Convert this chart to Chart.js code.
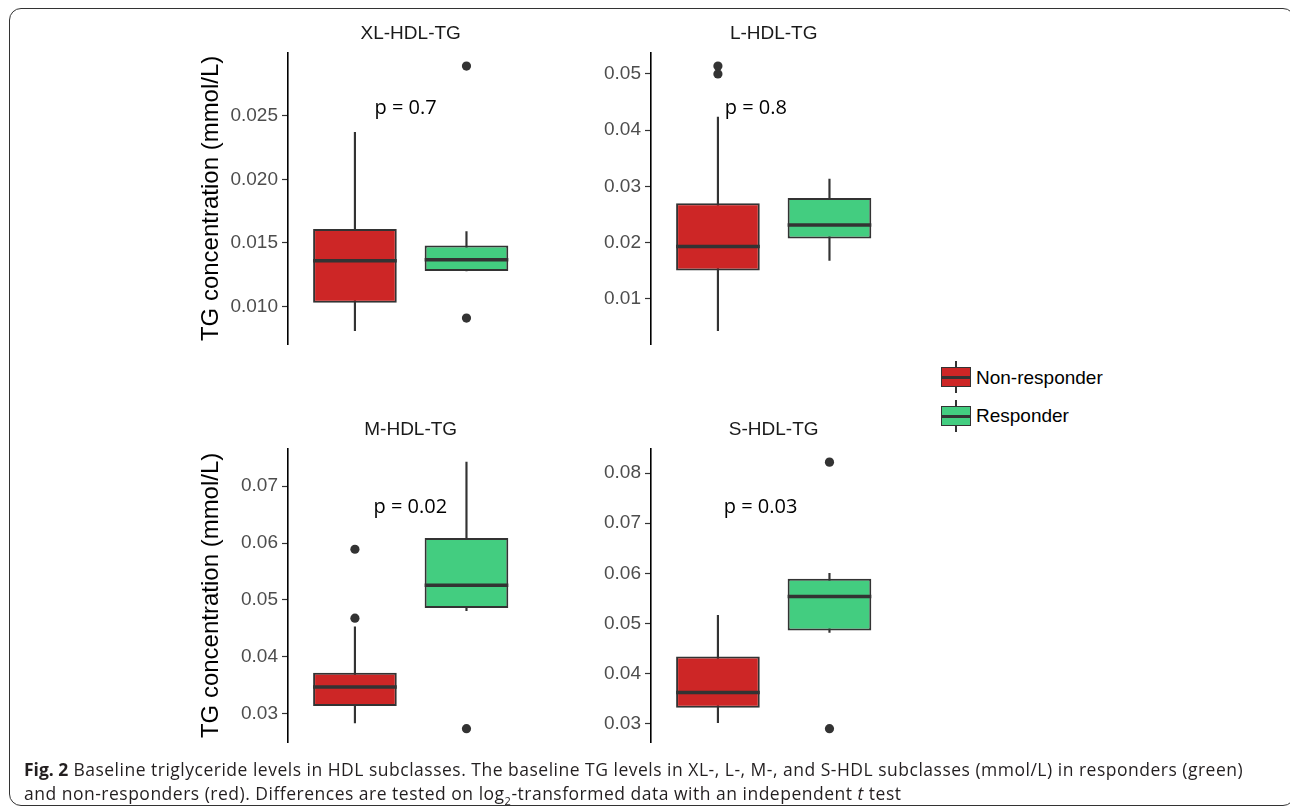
<!DOCTYPE html>
<html>
<head>
<meta charset="utf-8">
<script src="https://cdn.jsdelivr.net/npm/chart.js@4.4.1/dist/chart.umd.min.js"></script>
<style>
  html, body { margin: 0; padding: 0; background: #fff; }
  body { width: 1290px; height: 812px; position: relative; overflow: hidden; font-family: "Liberation Sans", Arial, sans-serif; }
  .frame { position: absolute; left: 9px; top: 8px; width: 1286px; height: 798px; box-sizing: border-box;
           border: 1.5px solid #333; border-radius: 12px; }
  .panel { position: absolute; }
  .wh { position: absolute; left: 955px; width: 1.5px; background: #333; }
  .key { position: absolute; left: 941px; width: 30px; height: 20px; box-sizing: border-box; border: 1.5px solid #333; }
  .key::before { content: ""; position: absolute; left: 0; right: 0; top: 50%; height: 3px; margin-top: -1.5px; background: #333; }
  .lbl { position: absolute; left: 976px; font-size: 19px; line-height: 22px; color: #000; }
  .caption { position: absolute; left: 24px; top: 757px; font-family: "Open Sans", sans-serif; font-size: 17.5px;
             letter-spacing: 0.5px; line-height: 24px; color: #231f20; white-space: nowrap; }
  .caption b { letter-spacing: 0; }
  .caption sub { font-size: 11px; line-height: 0; }
</style>
</head>
<body>
<div class="frame"></div>

<div class="panel" style="left:188px;top:22px;width:350px;height:338px"><canvas id="cXL"></canvas></div>
<div class="panel" style="left:581px;top:22px;width:320px;height:338px"><canvas id="cL"></canvas></div>
<div class="panel" style="left:188px;top:418px;width:350px;height:340px"><canvas id="cM"></canvas></div>
<div class="panel" style="left:581px;top:418px;width:320px;height:340px"><canvas id="cS"></canvas></div>

<div class="wh" style="top:361px;height:32px"></div>
<div class="key" style="top:367px;background:#cd2626"></div>
<div class="lbl" style="top:367px">Non-responder</div>
<div class="wh" style="top:400px;height:32px"></div>
<div class="key" style="top:406px;background:#43cd80"></div>
<div class="lbl" style="top:405px">Responder</div>

<div class="caption"><b>Fig. 2</b> Baseline triglyceride levels in HDL subclasses. The baseline TG levels in XL-, L-, M-, and S-HDL subclasses (mmol/L) in responders (green)<br>and non-responders (red). Differences are tested on log<sub>2</sub>-transformed data with an independent <i>t</i> test</div>

<script>
const groups = ['Non-responder', 'Responder'];
const groupPos = [1, 2];
const fills = ['#cd2626', '#43cd80'];

// XL-HDL-TG (mmol/L)
const xlLow  = [0.0081, 0.0128];
const xlQ1   = [0.0103, 0.0128];
const xlMed  = [0.0136, 0.01368];
const xlQ3   = [0.0161, 0.0148];
const xlHigh = [0.0237, 0.0159];
const xlOut  = [[], [0.0289, 0.0091]];
const xlTicks = ['0.010', '0.015', '0.020', '0.025'];

// L-HDL-TG
const lLow  = [0.0043, 0.0168];
const lQ1   = [0.0150, 0.0207];
const lMed  = [0.0193, 0.0231];
const lQ3   = [0.0270, 0.0279];
const lHigh = [0.0423, 0.0313];
const lOut  = [[0.0514, 0.0500], []];
const lTicks = ['0.01', '0.02', '0.03', '0.04', '0.05'];

// M-HDL-TG
const mLow  = [0.0284, 0.0481];
const mQ1   = [0.0314, 0.0486];
const mMed  = [0.0347, 0.0526];
const mQ3   = [0.0372, 0.0609];
const mHigh = [0.0453, 0.0742];
const mOut  = [[0.0589, 0.0468], [0.0274]];
const mTicks = ['0.03', '0.04', '0.05', '0.06', '0.07'];

// S-HDL-TG
const sLow  = [0.0302, 0.0482];
const sQ1   = [0.0332, 0.0486];
const sMed  = [0.0362, 0.0554];
const sQ3   = [0.0434, 0.0589];
const sHigh = [0.0516, 0.0600];
const sOut  = [[], [0.0822, 0.0290]];
const sTicks = ['0.03', '0.04', '0.05', '0.06', '0.07', '0.08'];

const pValues = ['p = 0.7', 'p = 0.8', 'p = 0.02', 'p = 0.03'];

Chart.defaults.font.family = '"Liberation Sans", Arial, sans-serif';

// p value text, placed in data units of each panel
const pLabel = {
  id: 'pLabel',
  afterDatasetsDraw(chart, args, opts) {
    const { ctx, scales: { x, y } } = chart;
    ctx.save();
    ctx.font = '20px "Open Sans"';
    ctx.fillStyle = '#000';
    ctx.textAlign = 'left';
    ctx.textBaseline = 'middle';
    ctx.fillText(opts.text, x.getPixelForValue(opts.x), y.getPixelForValue(opts.y));
    ctx.restore();
  }
};

function halfBox(chart) {
  const x = chart.scales.x;
  return x.getPixelForValue(1.375) - x.getPixelForValue(1);
}

function makeChart(id, title, d, pText, pAt, yTitle, yWidth) {
  const all = d.low.concat(d.high, ...d.out);
  const lo = Math.min(...all), hi = Math.max(...all);
  const pad = (hi - lo) * 0.05;
  const outliers = d.out.flatMap((vals, g) => vals.map(v => ({ x: groupPos[g], y: v })));

  new Chart(document.getElementById(id), {
    type: 'bar',
    data: {
      datasets: [
        {
          label: 'whisker',
          data: groupPos.map((x, i) => ({ x, y: [d.low[i], d.high[i]] })),
          backgroundColor: '#333',
          barThickness: 1.5,
          grouped: false,
          order: 3
        },
        {
          label: 'box',
          data: groupPos.map((x, i) => ({ x, y: [d.q1[i], d.q3[i]] })),
          backgroundColor: fills,
          borderColor: '#333',
          borderWidth: 2,
          borderSkipped: false,
          barPercentage: 0.75,
          categoryPercentage: 1,
          order: 2
        },
        {
          type: 'scatter',
          label: 'median',
          data: groupPos.map((x, i) => ({ x, y: d.med[i] })),
          pointStyle: 'line',
          pointRadius: ctx => halfBox(ctx.chart),
          pointHoverRadius: ctx => halfBox(ctx.chart),
          pointBorderColor: '#333',
          pointBorderWidth: 3.5,
          order: 1
        },
        {
          type: 'scatter',
          label: 'outlier',
          data: outliers,
          pointRadius: 4.6,
          pointBackgroundColor: '#333',
          pointBorderWidth: 0,
          order: 0
        }
      ]
    },
    options: {
      responsive: true,
      maintainAspectRatio: false,
      animation: false,
      events: [],
      layout: { padding: { left: 0, right: 0, top: 0, bottom: 16 } },
      scales: {
        x: {
          type: 'linear',
          min: 0.4,
          max: 2.6,
          offset: false,
          display: false,
          afterBuildTicks: s => { s.ticks = groupPos.map(v => ({ value: v })); }
        },
        y: {
          min: lo - pad,
          max: hi + pad,
          bounds: 'data',
          beginAtZero: false,
          afterBuildTicks: s => { s.ticks = d.ticks.map(t => ({ value: parseFloat(t) })); },
          afterFit: s => { s.width = yWidth; },
          ticks: {
            callback: (v, i) => d.ticks[i],
            color: '#4d4d4d',
            font: { size: 19 },
            padding: 4
          },
          grid: { drawOnChartArea: false, drawTicks: true, tickLength: 6, tickColor: '#333', tickWidth: 1.2 },
          border: { display: true, color: '#000', width: 1.6 },
          title: {
            display: yTitle,
            text: 'TG concentration (mmol/L)',
            color: '#000',
            font: { size: 24 },
            padding: { top: 9, bottom: 0 }
          }
        }
      },
      plugins: {
        legend: { display: false },
        tooltip: { enabled: false },
        title: {
          display: true,
          text: title,
          fullSize: false,
          color: '#1a1a1a',
          font: { size: 19, weight: 'normal' },
          padding: { top: 0, bottom: 8 }
        },
        pLabel: { text: pText, x: pAt[0], y: pAt[1] }
      }
    },
    plugins: [pLabel]
  });
}

makeChart('cXL', 'XL-HDL-TG',
  { low: xlLow, q1: xlQ1, med: xlMed, q3: xlQ3, high: xlHigh, out: xlOut, ticks: xlTicks },
  pValues[0], [1.175, 0.02555], true, 100);
makeChart('cL', 'L-HDL-TG',
  { low: lLow, q1: lQ1, med: lMed, q3: lQ3, high: lHigh, out: lOut, ticks: lTicks },
  pValues[1], [1.061, 0.0438], false, 70);
makeChart('cM', 'M-HDL-TG',
  { low: mLow, q1: mQ1, med: mMed, q3: mQ3, high: mHigh, out: mOut, ticks: mTicks },
  pValues[2], [1.167, 0.0663], true, 100);
makeChart('cS', 'S-HDL-TG',
  { low: sLow, q1: sQ1, med: sMed, q3: sQ3, high: sHigh, out: sOut, ticks: sTicks },
  pValues[3], [1.052, 0.0732], false, 70);
</script>
</body>
</html>
